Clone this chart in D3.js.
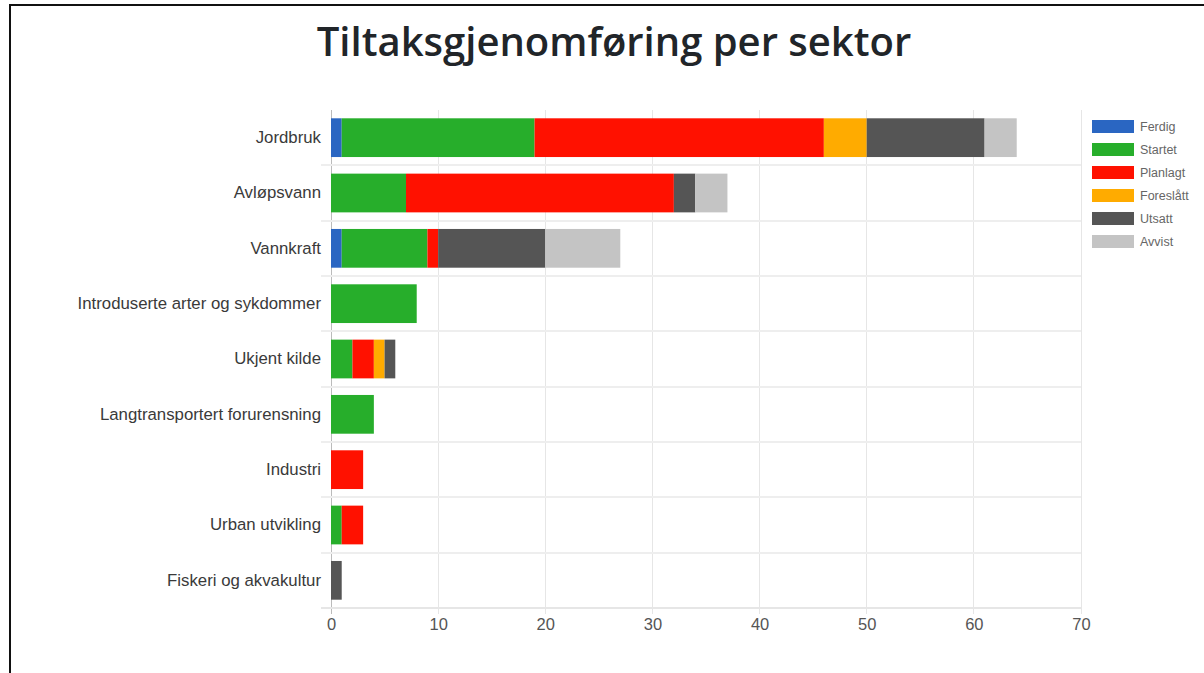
<!DOCTYPE html>
<html><head><meta charset="utf-8">
<script src="https://cdn.jsdelivr.net/npm/d3@7"></script>
<style>
html,body{margin:0;padding:0;background:#fff;overflow:hidden}
svg{display:block}
</style></head><body>
<svg id="c" width="1204" height="673"></svg>
<script>
const categories = ["Jordbruk","Avløpsvann","Vannkraft","Introduserte arter og sykdommer","Ukjent kilde","Langtransportert forurensning","Industri","Urban utvikling","Fiskeri og akvakultur"];
const seriesNames = ["Ferdig","Startet","Planlagt","Foreslått","Utsatt","Avvist"];
const seriesColors = ["#2a66c2","#27ae2b","#ff1100","#ffab00","#555555","#c4c4c4"];
const ferdig    = [1,0,1,0,0,0,0,0,0];
const startet   = [18,7,8,8,2,4,0,1,0];
const planlagt  = [27,25,1,0,2,0,3,2,0];
const foreslatt = [4,0,0,0,1,0,0,0,0];
const utsatt    = [11,2,10,0,1,0,0,0,1];
const avvist    = [3,3,7,0,0,0,0,0,0];
const xTicks = [0,10,20,30,40,50,60,70];
const title = "Tiltaksgjenomføring per sektor";

const seriesValues = [ferdig,startet,planlagt,foreslatt,utsatt,avvist];
const rows = categories.map((c,i)=>{const o={cat:c}; seriesNames.forEach((s,j)=>o[s]=seriesValues[j][i]); return o;});
const stacked = d3.stack().keys(seriesNames)(rows);

const svg = d3.select("#c");
// frame
svg.append("path").attr("d","M10,673 L10,5 L1204,5").attr("fill","none").attr("stroke","#111").attr("stroke-width",2);

svg.append("text").attr("x",614).attr("y",56).attr("text-anchor","middle")
  .attr("font-family","'Open Sans', 'Noto Sans', sans-serif").attr("font-weight",600)
  .attr("font-size",40).attr("fill","#212529").text(title);

const m = {left:331, right:1081, top:110, bottom:608};
const x = d3.scaleLinear().domain([0,70]).range([m.left,m.right]);
const y = d3.scaleBand().domain(categories).range([m.top,m.bottom]).paddingInner(0.3).paddingOuter(0.15);
const yb = d3.scaleBand().domain(categories).range([m.top,m.bottom]);

const g = svg.append("g");
// vertical grid
g.selectAll(".vg").data(xTicks).join("line")
  .attr("x1",d=>x(d)).attr("x2",d=>x(d)).attr("y1",m.top).attr("y2",m.bottom+6)
  .attr("stroke",d=>d===0?"#bbbbbb":"#e6e6e6").attr("stroke-width",1).attr("shape-rendering","crispEdges");
// horizontal band lines
g.selectAll(".hg").data(categories.slice(1)).join("line")
  .attr("x1",m.left-10).attr("x2",m.right).attr("y1",d=>yb(d)).attr("y2",d=>yb(d))
  .attr("stroke","#eeeeee").attr("stroke-width",2).attr("shape-rendering","crispEdges");
g.append("line").attr("x1",m.left-10).attr("x2",m.right).attr("y1",m.bottom).attr("y2",m.bottom)
  .attr("stroke","#e6e6e6").attr("stroke-width",2).attr("shape-rendering","crispEdges");

// bars
const layers = svg.append("g").selectAll("g").data(stacked).join("g")
  .attr("fill",(d,i)=>seriesColors[i]);
layers.selectAll("rect").data(d=>d.filter(p=>p[1]-p[0]>0)).join("rect")
  .attr("x",d=>x(d[0])).attr("width",d=>x(d[1])-x(d[0]))
  .attr("y",d=>y(d.data.cat)).attr("height",y.bandwidth());

// x axis labels
const xAxis = d3.axisBottom(x).tickValues(xTicks).tickSize(0).tickPadding(10);
const xa = svg.append("g").attr("transform",`translate(0,${m.bottom})`).call(xAxis);
xa.select(".domain").remove();
xa.selectAll("text").attr("font-family","'Liberation Sans', Arial, sans-serif").attr("font-size",16.5).attr("fill","#555");

// y axis labels
const yAxis = d3.axisLeft(yb).tickSize(0).tickPadding(10);
const ya = svg.append("g").attr("transform",`translate(${m.left},0)`).call(yAxis);
ya.select(".domain").remove();
ya.selectAll("text").attr("font-family","'Liberation Sans', Arial, sans-serif").attr("font-size",16.8).attr("fill","#3a3a3a");

// legend
const lg = svg.append("g").attr("transform","translate(1092,120)");
const li = lg.selectAll("g").data(seriesNames).join("g").attr("transform",(d,i)=>`translate(0,${i*23})`);
li.append("rect").attr("width",42).attr("height",13).attr("fill",(d,i)=>seriesColors[i]);
li.append("text").attr("x",48).attr("y",11).attr("font-family","'Liberation Sans', Arial, sans-serif")
  .attr("font-size",12.5).attr("fill","#666").text(d=>d);
</script>
</body></html>
